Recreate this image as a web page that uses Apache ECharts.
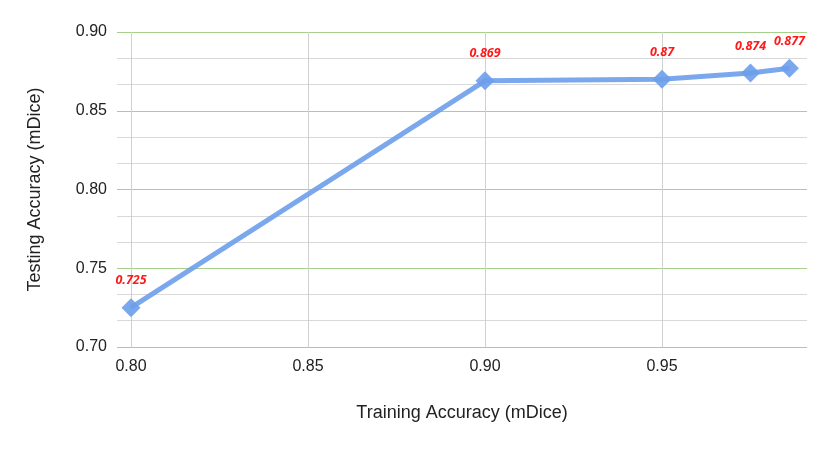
<!DOCTYPE html>
<html>
<head>
<meta charset="utf-8">
<script src="https://cdn.jsdelivr.net/npm/echarts@6/dist/echarts.min.js"></script>
<style>
  html, body { margin: 0; padding: 0; background: #fff; }
  #chart { width: 830px; height: 449px; }
</style>
</head>
<body>
<div id="chart"></div>
<script>
// training accuracy (x) vs testing accuracy (y)
const trainAcc = [0.80, 0.90, 0.95, 0.975, 0.986];
const testAcc = [0.725, 0.869, 0.87, 0.874, 0.877];
const labelText = ['0.725', '0.869', '0.87', '0.874', '0.877'];
const xTicks = [0.80, 0.85, 0.90, 0.95];

const chart = echarts.init(document.getElementById('chart'));

chart.setOption({
  animation: false,
  grid: { left: 117, right: 23, top: 32, bottom: 102, containLabel: false },
  xAxis: {
    type: 'value',
    min: 0.79605,
    max: 0.99096,
    name: 'Training Accuracy (mDice)',
    nameLocation: 'middle',
    nameGap: 57,
    nameTextStyle: { fontFamily: 'Liberation Sans', fontSize: 18, color: '#222' },
    axisLine: { show: false },
    axisTick: { show: false, customValues: xTicks },
    axisLabel: {
      customValues: xTicks,
      formatter: v => v.toFixed(2),
      fontFamily: 'Liberation Sans', fontSize: 16, color: '#222', margin: 12
    },
    splitLine: { show: false }
  },
  yAxis: {
    type: 'value',
    min: 0.70,
    max: 0.90,
    interval: 0.05,
    name: 'Testing Accuracy (mDice)',
    nameLocation: 'middle',
    nameGap: 73,
    nameTextStyle: { fontFamily: 'Liberation Sans', fontSize: 18, color: '#222' },
    axisLine: { show: false },
    axisTick: { show: false },
    axisLabel: {
      formatter: v => v.toFixed(2),
      fontFamily: 'Liberation Sans', fontSize: 16, color: '#222', margin: 10
    },
    splitLine: { show: true, lineStyle: { color: '#a8d08d', width: 1 } },
    minorTick: { show: false, splitNumber: 3 },
    minorSplitLine: { show: true, lineStyle: { color: '#d9d9d9', width: 1 } }
  },
  series: [
    {
      type: 'line',
      data: trainAcc.map((x, i) => [x, testAcc[i]]),
      symbol: 'diamond',
      symbolSize: 19,
      lineStyle: { color: '#6d9eeb', width: 5, opacity: 0.9 },
      itemStyle: { color: '#6d9eeb', opacity: 0.9 },
      label: {
        show: true,
        position: 'top',
        distance: 11,
        formatter: p => labelText[p.dataIndex],
        color: '#ff0000',
        fontStyle: 'italic',
        fontWeight: 'bold',
        fontFamily: 'Open Sans',
        fontSize: 12.5
      },
      markLine: {
        silent: true,
        symbol: 'none',
        label: { show: false },
        z: 1,
        lineStyle: { color: '#d0d0d0', type: 'solid', width: 1 },
        data: xTicks.map(v => ({ xAxis: v }))
      }
    }
  ]
});
</script>
</body>
</html>
